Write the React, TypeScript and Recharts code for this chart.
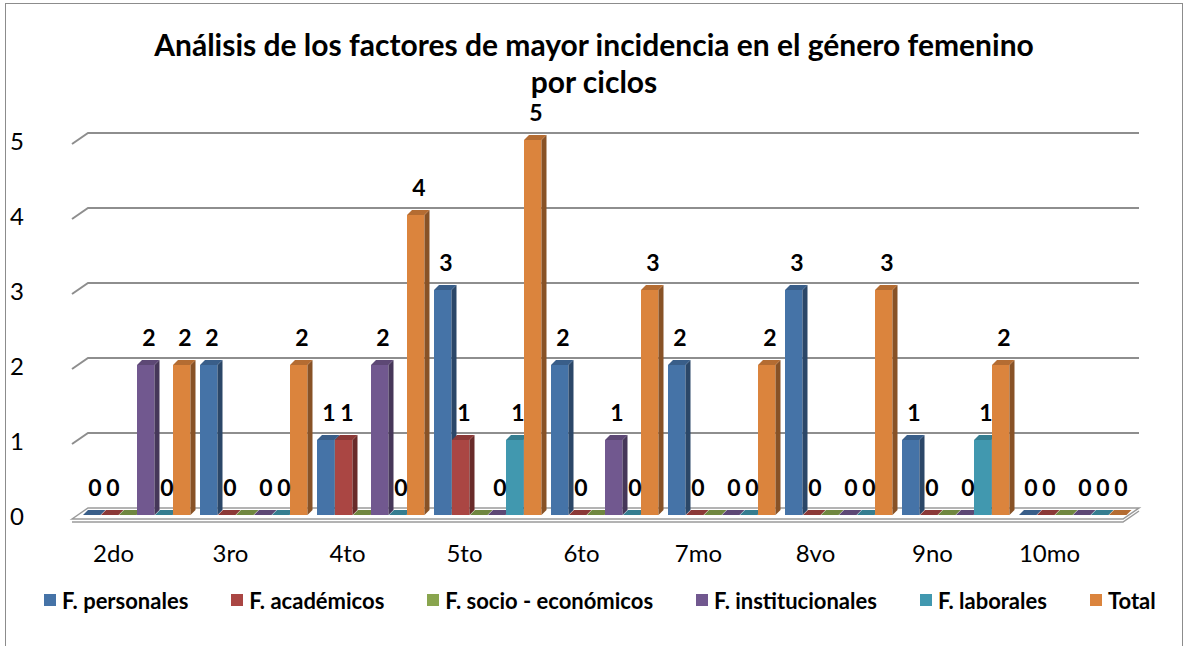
import { Bar, BarChart, CartesianGrid, LabelList, Legend, XAxis, YAxis } from "recharts";

const categories = ["2do", "3ro", "4to", "5to", "6to", "7mo", "8vo", "9no", "10mo"];
const personales = [0, 2, 1, 3, 2, 2, 3, 1, 0];
const academicos = [0, 0, 1, 1, 0, 0, 0, 0, 0];
const socioEconomicos = [0, 0, 0, 0, 0, 0, 0, 0, 0];
const institucionales = [2, 0, 2, 0, 1, 0, 0, 0, 0];
const laborales = [0, 0, 0, 1, 0, 0, 0, 1, 0];
const total = [2, 2, 4, 5, 3, 2, 3, 2, 0];
const yTicks = [0, 1, 2, 3, 4, 5];

const series = [
  { key: "personales", name: "F. personales", values: personales, color: "#4573A7", label: true },
  { key: "academicos", name: "F. académicos", values: academicos, color: "#AA4643", label: true },
  { key: "socio", name: "F. socio - económicos", values: socioEconomicos, color: "#89A54E", label: false },
  { key: "institucionales", name: "F. institucionales", values: institucionales, color: "#71588F", label: true },
  { key: "laborales", name: "F. laborales", values: laborales, color: "#4198AF", label: true },
  { key: "total", name: "Total", values: total, color: "#DB843D", label: true },
];

const data = categories.map((c, i) => {
  const row: Record<string, string | number> = { name: c };
  series.forEach((s) => (row[s.key] = s.values[i]));
  return row;
});

const FONT = "Lato, 'Open Sans', sans-serif";
const DX = 5;
const DY = 5;

function shade(hex: string, f: number) {
  const n = parseInt(hex.slice(1), 16);
  const r = Math.round(((n >> 16) & 255) * f);
  const g = Math.round(((n >> 8) & 255) * f);
  const b = Math.round((n & 255) * f);
  return `rgb(${r},${g},${b})`;
}

// front face + darker side + top, a cheap stand-in for Excel's 3D columns
function Bar3D(props: any) {
  const { x, y, width, fill } = props;
  const h = Math.max(0, props.height || 0);
  const w = width - 0.5;
  return (
    <g>
      <rect x={x} y={y} width={w} height={h} fill={fill} />
      <polygon
        points={`${x + w},${y} ${x + w + DX},${y - DY} ${x + w + DX},${y + h - DY} ${x + w},${y + h}`}
        fill={shade(fill, 0.62)}
      />
      <polygon
        points={`${x},${y} ${x + DX},${y - DY} ${x + w + DX},${y - DY} ${x + w},${y}`}
        fill={shade(fill, 0.82)}
      />
    </g>
  );
}

function GridLine(props: any) {
  const { x1, x2, y1 } = props;
  const y = y1;
  if (Math.abs(y - 515) < 1) {
    return (
      <g>
        <polygon
          points={`${x1 - 5},${y + 4} ${x1 + 11},${y - 7} ${x2 + 9},${y - 7} ${x2 - 7},${y + 4}`}
          fill="#ffffff"
          stroke="#9a9a9a"
          strokeWidth={1.5}
        />
        <polyline
          points={`${x1 - 5},${y + 7} ${x2 - 7},${y + 7} ${x2 + 9},${y - 4}`}
          fill="none"
          stroke="#9a9a9a"
          strokeWidth={1.5}
        />
      </g>
    );
  }
  return (
    <polyline
      points={`${x1 - 5},${y + 4} ${x1 + 11},${y - 7} ${x2 + 9},${y - 7}`}
      fill="none"
      stroke="#8e8e8e"
      strokeWidth={2}
    />
  );
}

function XTick(props: any) {
  const { x, y, payload } = props;
  return (
    <text x={x - 22} y={y - 3} textAnchor="middle" dominantBaseline="middle" fontFamily={FONT} fontSize={24} fill="#000">
      {payload.value}
    </text>
  );
}

function YTick(props: any) {
  const { y, payload } = props;
  return (
    <text x={17} y={y + 4} textAnchor="middle" dominantBaseline="middle" fontFamily={FONT} fontSize={24} fill="#000">
      {payload.value}
    </text>
  );
}

function ValueLabel(props: any) {
  const { x, y, width, value } = props;
  return (
    <text
      x={x + width / 2 + 3}
      y={y - 25}
      textAnchor="middle"
      dominantBaseline="middle"
      fontFamily={FONT}
      fontWeight={700}
      fontSize={23}
      fill="#000"
    >
      {value}
    </text>
  );
}

function LegendContent() {
  return (
    <div
      style={{
        height: 30,
        display: "flex",
        alignItems: "center",
        paddingLeft: 44,
        gap: 43,
        fontFamily: FONT,
        fontWeight: 700,
        fontSize: 22,
        color: "#000",
      }}
    >
      {series.map((s) => (
        <div key={s.key} style={{ display: "flex", alignItems: "center" }}>
          <span style={{ width: 12, height: 12, background: s.color, marginRight: 6, display: "inline-block" }} />
          {s.name}
        </div>
      ))}
    </div>
  );
}

export default function App() {
  return (
    <div style={{ position: "absolute", left: 0, top: 0, width: 1187, height: 646, background: "#fff", overflow: "hidden" }}>
      <div
        style={{
          position: "absolute",
          left: 5,
          top: 3,
          width: 1178,
          height: 700,
          border: "1.5px solid #8c8c8c",
          boxSizing: "border-box",
        }}
      />
      <BarChart
        width={1187}
        height={646}
        data={data}
        margin={{ top: 140, right: 57, bottom: 71, left: 17 }}
        barCategoryGap={6}
        barGap={0}
        style={{ position: "absolute", left: 0, top: 0 }}
      >
        <text x={594} y={48} textAnchor="middle" dominantBaseline="middle" fontFamily={FONT} fontWeight={700} fontSize={30} fill="#000">
          Análisis de los factores de mayor incidencia en el género femenino
        </text>
        <text x={594} y={85} textAnchor="middle" dominantBaseline="middle" fontFamily={FONT} fontWeight={700} fontSize={30} fill="#000">
          por ciclos
        </text>
        <CartesianGrid vertical={false} horizontal={GridLine} />
        <XAxis dataKey="name" axisLine={false} tickLine={false} height={30} tick={XTick} tickMargin={38} />
        <YAxis domain={[0, 5]} ticks={yTicks} width={60} axisLine={false} tickLine={false} tick={YTick} />
        <Legend verticalAlign="bottom" content={LegendContent} wrapperStyle={{ left: 0, bottom: 31, width: 1187 }} />
        {series.map((s) => (
          <Bar key={s.key} dataKey={s.key} name={s.name} fill={s.color} shape={Bar3D} isAnimationActive={false}>
            {s.label && <LabelList dataKey={s.key} content={ValueLabel} />}
          </Bar>
        ))}
      </BarChart>
    </div>
  );
}
